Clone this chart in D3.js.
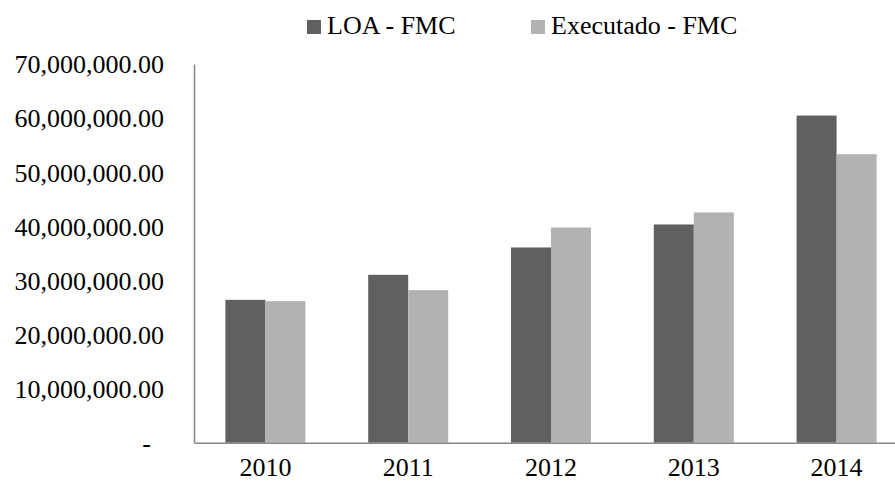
<!DOCTYPE html>
<html>
<head>
<meta charset="utf-8">
<script src="https://cdn.jsdelivr.net/npm/d3@7"></script>
<style>
  body { margin: 0; background: #fff; }
  text { font-family: "Liberation Serif", "Times New Roman", serif; fill: #000; }
</style>
</head>
<body>
<div id="chart"></div>
<script>
(function () {

  var years = ["2010", "2011", "2012", "2013", "2014"]
  var seriesNames = ["LOA - FMC", "Executado - FMC"]
  var loa = [26410000, 31030000, 36090000, 40340000, 60470000]
  var executado = [26170000, 28200000, 39780000, 42560000, 53320000]
  var yTicks = [0, 10000000, 20000000, 30000000, 40000000, 50000000, 60000000, 70000000]
  var colors = ["#606060", "#b2b2b2"]

  var width = 895, height = 484
  var margin = { top: 64, right: -13, bottom: 41, left: 194 }

  var svg = d3.select("#chart").append("svg")
      .attr("width", width)
      .attr("height", height)

  var x = d3.scaleBand()
      .domain(years)
      .range([margin.left, width - margin.right])

  var xInner = d3.scaleBand()
      .domain(seriesNames)
      .range([0, 80])

  var y = d3.scaleLinear()
      .domain([0, 70000000])
      .range([height - margin.bottom - 0.3, margin.top])

  var fmt = d3.format(",.2f")

  var rows = years.map(function (yr, i) {
    return { year: yr, values: [loa[i], executado[i]] }
  })

  // bars
  var groups = svg.selectAll(".group")
      .data(rows)
      .enter().append("g")
      .attr("class", "group")
      .attr("transform", function (d) {
        return "translate(" + (x(d.year) + x.bandwidth() / 2 - 40) + ",0)"
      })

  groups.selectAll("rect")
      .data(function (d) { return d.values.map(function (v, i) { return { name: seriesNames[i], value: v, i: i } }) })
      .enter().append("rect")
      .attr("x", function (d) { return xInner(d.name) })
      .attr("width", xInner.bandwidth())
      .attr("y", function (d) { return y(d.value) })
      .attr("height", function (d) { return y(0) - y(d.value) })
      .attr("fill", function (d) { return colors[d.i] })

  // y axis
  var yAxis = d3.axisLeft(y)
      .tickValues(yTicks)
      .tickSize(0)
      .tickPadding(30)
      .tickFormat(function (d) { return d === 0 ? "-" : fmt(d) })

  var gy = svg.append("g")
      .attr("transform", "translate(" + margin.left + ",0)")
      .call(yAxis)
  gy.select(".domain").attr("stroke", "#868686").attr("stroke-width", 1.5)
  gy.selectAll("text")
      .style("font-size", "26px")
      .attr("dy", "0.34em")
      .attr("x", function (d) { return d === 0 ? -43 : -30 })

  // x axis
  var xAxis = d3.axisBottom(x).tickSize(0).tickPadding(15)
  var gx = svg.append("g")
      .attr("transform", "translate(0," + y(0) + ")")
      .call(xAxis)
  gx.select(".domain").attr("stroke", "#868686").attr("stroke-width", 1.5)
  gx.selectAll("text").style("font-size", "26px")

  // legend
  var legendX = [307, 531]
  var legend = svg.selectAll(".legend")
      .data(seriesNames)
      .enter().append("g")
      .attr("class", "legend")
      .attr("transform", function (d, i) { return "translate(" + legendX[i] + ",0)" })

  legend.append("rect")
      .attr("x", 0).attr("y", 20)
      .attr("width", 14).attr("height", 14)
      .attr("fill", function (d, i) { return colors[i] })

  legend.append("text")
      .attr("x", 20).attr("y", 34)
      .style("font-size", "26px")
      .text(function (d) { return d })

})()
</script>
</body>
</html>
